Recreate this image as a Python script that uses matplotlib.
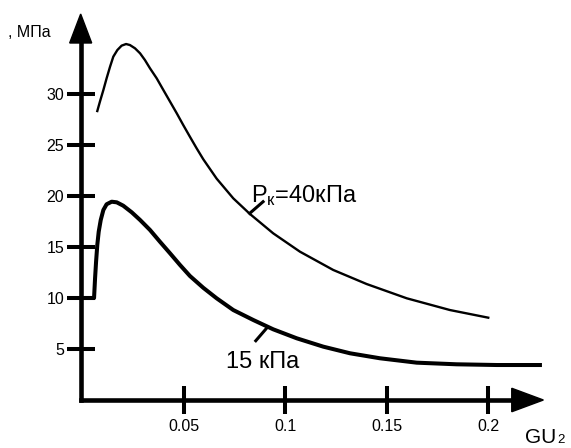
import matplotlib.pyplot as plt
from matplotlib.patches import Polygon

plt.rcParams['font.family'] = ['Liberation Sans', 'DejaVu Sans']
plt.rcParams['mathtext.fontset'] = 'custom'
plt.rcParams['mathtext.rm'] = 'Liberation Sans'
plt.rcParams['mathtext.it'] = 'Liberation Sans'

# upper curve, Pк = 40 кПа
x_40 = [0.0072, 0.0085, 0.0102, 0.0118, 0.0135, 0.0151, 0.0171, 0.0192, 0.0214,
        0.0233, 0.0258, 0.0283, 0.0307, 0.0332, 0.0365, 0.0398, 0.0431, 0.0464,
        0.0496, 0.0529, 0.0562, 0.0595, 0.0661, 0.0743, 0.0825, 0.0940, 0.1072,
        0.1236, 0.1401, 0.1599, 0.1812, 0.2001]
y_40 = [28.33, 29.25, 30.39, 31.54, 32.68, 33.66, 34.31, 34.74, 34.90,
        34.80, 34.48, 33.99, 33.33, 32.52, 31.54, 30.39, 29.25, 28.11,
        26.96, 25.81, 24.68, 23.60, 21.70, 19.77, 18.24, 16.34, 14.54,
        12.75, 11.37, 9.97, 8.82, 8.07]

# lower curve, 15 кПа
x_15 = [0.0, 0.0056, 0.0061, 0.0066, 0.0072, 0.0079, 0.0089, 0.0102, 0.0118,
        0.0143, 0.0168, 0.0200, 0.0242, 0.0283, 0.0332, 0.0381, 0.0431, 0.0480,
        0.0529, 0.0595, 0.0661, 0.0743, 0.0842, 0.0940, 0.1056, 0.1187, 0.1319,
        0.1467, 0.1648, 0.1845, 0.2043, 0.2256]
y_15 = [10.0, 10.0, 11.93, 13.56, 15.20, 16.50, 17.65, 18.63, 19.19,
        19.44, 19.38, 19.05, 18.40, 17.65, 16.67, 15.52, 14.38, 13.24,
        12.16, 11.00, 9.97, 8.82, 7.84, 6.93, 6.05, 5.23, 4.58,
        4.09, 3.66, 3.50, 3.43, 3.43]

x_ticks = [0.05, 0.1, 0.15, 0.2]
x_labels = ['0.05', '0.1', '0.15', '0.2']
y_ticks = [5, 10, 15, 20, 25, 30]

fig = plt.figure(figsize=(5.71, 4.48), dpi=100)
ax = fig.add_axes([0, 0, 1, 1])

# pixel mapping: x=0 at px 82.7, 2026.7 px per unit; y=0 at px 400, 10.2 px per unit
ax.set_xlim(-82.7 / 2026.7, (571 - 82.7) / 2026.7)
ax.set_ylim(-48 / 10.2, 400 / 10.2)

ax.plot(x_40, y_40, color='black', lw=1.7, solid_joinstyle='round')
ax.plot(x_15, y_15, color='black', lw=2.9, solid_joinstyle='round')

# axes with arrows
for s in ['top', 'right']:
    ax.spines[s].set_visible(False)
ax.spines['left'].set_position(('data', -0.001))
ax.spines['bottom'].set_position(('data', 0))
ax.spines['left'].set_bounds(0, 35.5)
ax.spines['bottom'].set_bounds(-0.001, 0.213)
ax.spines['left'].set_linewidth(3.3)
ax.spines['bottom'].set_linewidth(3.3)
ax.add_patch(Polygon([[-0.00543 - 0.001, 35.0], [0.00543 - 0.001, 35.0], [-0.001, 37.84]],
                     closed=True, color='black'))
ax.add_patch(Polygon([[0.2117, -1.15], [0.2117, 1.15], [0.2273, 0.0]],
                     closed=True, color='black'))

ax.set_xticks(x_ticks)
ax.set_xticklabels(x_labels)
ax.set_yticks(y_ticks)
ax.tick_params(direction='inout', length=20, width=2.9, labelsize=11.5, color='black')
ax.tick_params(axis='x', pad=4)
ax.tick_params(axis='y', pad=2)

# labels on curves
ax.plot([0.0824, 0.0890], [18.3, 19.44], color='black', lw=2.2)
ax.text(0.0829, 19.45, 'P$_{\\mathrm{к}}$=40кПа', fontsize=17, ha='left', va='baseline')
ax.plot([0.0907, 0.0854], [7.03, 5.81], color='black', lw=2.2)
ax.text(0.0709, 3.11, '15 кПа', fontsize=17, ha='left', va='baseline')

ax.text(-0.037, 35.6, ', МПа', fontsize=11.5, ha='left', va='baseline')
ax.text(0.2182, -4.22, 'GU', fontsize=15, ha='left', va='baseline')
ax.text(0.2340, -4.22, '2', fontsize=9.5, ha='left', va='baseline')

fig.savefig('out.png', dpi=100)
